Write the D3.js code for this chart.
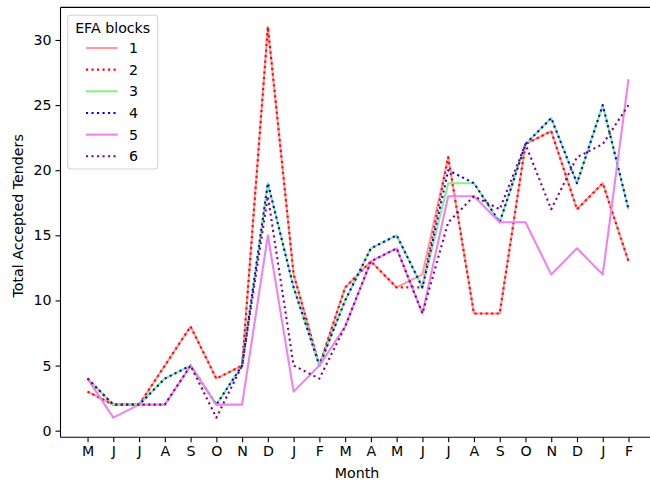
<!DOCTYPE html>
<html>
<head>
<meta charset="utf-8">
<script src="https://cdn.jsdelivr.net/npm/d3@7"></script>
<style>
  body { margin: 0; background: #fff; }
  svg { display: block; font-family: 'DejaVu Sans', sans-serif; }
</style>
</head>
<body>
<svg id="chart"></svg>
<script>
// Month labels along the x axis
const months = ['M', 'J', 'J', 'A', 'S', 'O', 'N', 'D', 'J', 'F', 'M',
                'A', 'M', 'J', 'J', 'A', 'S', 'O', 'N', 'D', 'J', 'F'];

// Accepted tenders per EFA block
const block1 = [3, 2, 2, 5, 8, 4, 5, 31, 12, 5, 11, 13, 11, 12, 21, 9, 9, 22, 23, 17, 19, 13];
const block2 = [3, 2, 2, 5, 8, 4, 5, 31, 12, 5, 11, 13, 11, 11, 21, 9, 9, 22, 23, 17, 19, 13];
const block3 = [4, 2, 2, 4, 5, 2, 5, 19, 11, 5, 10, 14, 15, 11, 19, 19, 16, 22, 24, 19, 25, 17];
const block4 = [4, 2, 2, 4, 5, 2, 5, 19, 11, 5, 10, 14, 15, 11, 20, 19, 16, 22, 24, 19, 25, 17];
const block5 = [4, 1, 2, 2, 5, 2, 2, 15, 3, 5, 8, 13, 14, 9, 18, 18, 16, 16, 12, 14, 12, 27];
const block6 = [4, 2, 2, 2, 5, 1, 5, 18, 5, 4, 8, 13, 14, 9, 16, 18, 17, 22, 17, 21, 22, 25];

const yTicks = [0, 5, 10, 15, 20, 25, 30];

const series = [
    { name: '1', values: block1, color: '#ff9a9a', dash: null },
    { name: '2', values: block2, color: '#ff0000', dash: '2.1,3.4' },
    { name: '3', values: block3, color: '#88ee88', dash: null },
    { name: '4', values: block4, color: '#0000ff', dash: '2.1,3.4' },
    { name: '5', values: block5, color: '#ee82ee', dash: null },
    { name: '6', values: block6, color: '#800080', dash: '2.1,3.4' }
];

const width = 650, height = 488;
const margin = { top: 7.4, left: 60.5, bottom: 50.8 };
const fontSize = '14.2px';

const svg = d3.select('#chart')
    .attr('width', width)
    .attr('height', height);

const n = months.length;
const x = d3.scaleLinear()
    .domain([-0.05 * (n - 1), (n - 1) * 1.05])
    .range([margin.left, margin.left + 25.76 * (n - 1) * 1.1]);

const y = d3.scaleLinear()
    .domain([-0.5, 32.5])
    .range([height - margin.bottom, margin.top]);

const xAxis = d3.axisBottom(x)
    .tickValues(d3.range(n))
    .tickFormat(i => months[i])
    .tickSize(5)
    .tickPadding(4);

const yAxis = d3.axisLeft(y)
    .tickValues(yTicks)
    .tickSize(5)
    .tickPadding(4);

// lines
const line = d3.line()
    .x((d, i) => x(i))
    .y(d => y(d));

svg.append('g')
    .selectAll('path')
    .data(series)
    .join('path')
    .attr('d', d => line(d.values))
    .attr('fill', 'none')
    .attr('stroke', d => d.color)
    .attr('stroke-width', 2.1)
    .attr('stroke-linejoin', 'round')
    .attr('stroke-dasharray', d => d.dash);

// axes
const gx = svg.append('g')
    .attr('transform', `translate(0, ${height - margin.bottom})`)
    .call(xAxis);

const gy = svg.append('g')
    .attr('transform', `translate(${margin.left}, 0)`)
    .call(yAxis);

[gx, gy].forEach(g => {
    g.select('.domain').attr('stroke', '#000').attr('stroke-width', 1.1);
    g.selectAll('.tick line').attr('stroke', '#000').attr('stroke-width', 1.1);
    g.selectAll('.tick text')
        .attr('fill', '#000')
        .style('font-size', fontSize)
        .style('font-family', "'DejaVu Sans', sans-serif");
});
gx.select('.domain').attr('d', `M${margin.left},0H${width}`);
gy.select('.domain').attr('d', `M0,${margin.top}V${height - margin.bottom}`);

// top spine
svg.append('line')
    .attr('x1', margin.left).attr('x2', width)
    .attr('y1', margin.top).attr('y2', margin.top)
    .attr('stroke', '#000')
    .attr('stroke-width', 1.1);

// axis titles
svg.append('text')
    .attr('x', 357)
    .attr('y', 478)
    .attr('text-anchor', 'middle')
    .style('font-size', fontSize)
    .text('Month');

svg.append('text')
    .attr('transform', `translate(23, ${y(16.5)}) rotate(-90)`)
    .attr('text-anchor', 'middle')
    .style('font-size', fontSize)
    .text('Total Accepted Tenders');

// legend
const legend = svg.append('g');

legend.append('rect')
    .attr('x', 67.7)
    .attr('y', 15.3)
    .attr('width', 90)
    .attr('height', 153.7)
    .attr('rx', 3)
    .attr('fill', 'rgba(255,255,255,0.8)')
    .attr('stroke', '#d4d4d4')
    .attr('stroke-width', 1.1);

legend.append('text')
    .attr('x', 112.7)
    .attr('y', 32.5)
    .attr('text-anchor', 'middle')
    .style('font-size', fontSize)
    .text('EFA blocks');

const items = legend.selectAll('.item')
    .data(series)
    .join('g')
    .attr('class', 'item')
    .attr('transform', (d, i) => `translate(0, ${48 + i * 21.66})`);

items.append('line')
    .attr('x1', 86).attr('x2', 117.7)
    .attr('y1', 0).attr('y2', 0)
    .attr('stroke', d => d.color)
    .attr('stroke-width', 2.1)
    .attr('stroke-dasharray', d => d.dash);

items.append('text')
    .attr('x', 129)
    .attr('y', 5)
    .style('font-size', fontSize)
    .text(d => d.name);
</script>
</body>
</html>
